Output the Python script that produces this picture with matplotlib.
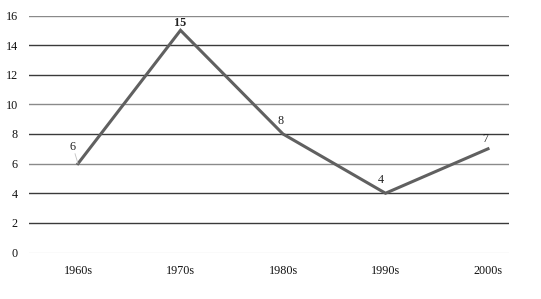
import matplotlib
matplotlib.use("Agg")
import matplotlib.pyplot as plt

categories = ["1960s", "1970s", "1980s", "1990s", "2000s"]
values = [6, 15, 8, 4, 7]
yticks = [0, 2, 4, 6, 8, 10, 12, 14, 16]

label_offsets = [(-5, 17), (0, 7), (-2, 13), (-5, 13), (-3, 10)]
label_weights = ["normal", "bold", "normal", "normal", "normal"]

plt.rcParams['font.family'] = ['Liberation Serif', 'DejaVu Serif']

fig = plt.figure(figsize=(5.41, 2.99), dpi=100)
ax = fig.add_axes([29/541, 1-252.5/299, 480/541, 237/299])

x = list(range(len(categories)))
ax.plot(x, values, color="#606060", linewidth=2.2, solid_joinstyle="miter", zorder=3)

for xi, v, off, w in zip(x, values, label_offsets, label_weights):
    ax.annotate(str(v), (xi, v), xytext=off, textcoords="offset pixels",
                ha="center", va="center", fontsize=8.7, color="#222222",
                fontweight=w, zorder=4)
# leader line for first label
ax.annotate("", (x[0], values[0]), xytext=(-3, 10), textcoords="offset pixels",
            arrowprops=dict(arrowstyle="-", color="#c0c0c0", lw=0.6, shrinkA=0, shrinkB=0))

ax.set_xlim((29-78)/102.5, (509-78)/102.5)
ax.set_ylim(0, 16)
ax.set_yticks(yticks)
ax.set_xticks(x)
ax.set_xticklabels(categories)

for t in yticks:
    if t == 0:
        c = "#e6e6e6"
    elif t in (16, 10, 6):
        c = "#8a8a8a"
    else:
        c = "#3a3a3a"
    ax.axhline(t, color=c, linewidth=1.0, zorder=1)

for s in ax.spines.values():
    s.set_visible(False)
ax.tick_params(axis="both", length=0, labelsize=8.7, colors="#111111")
ax.tick_params(axis="y", pad=8)
ax.tick_params(axis="x", pad=9)

fig.savefig("out.png", dpi=100)
